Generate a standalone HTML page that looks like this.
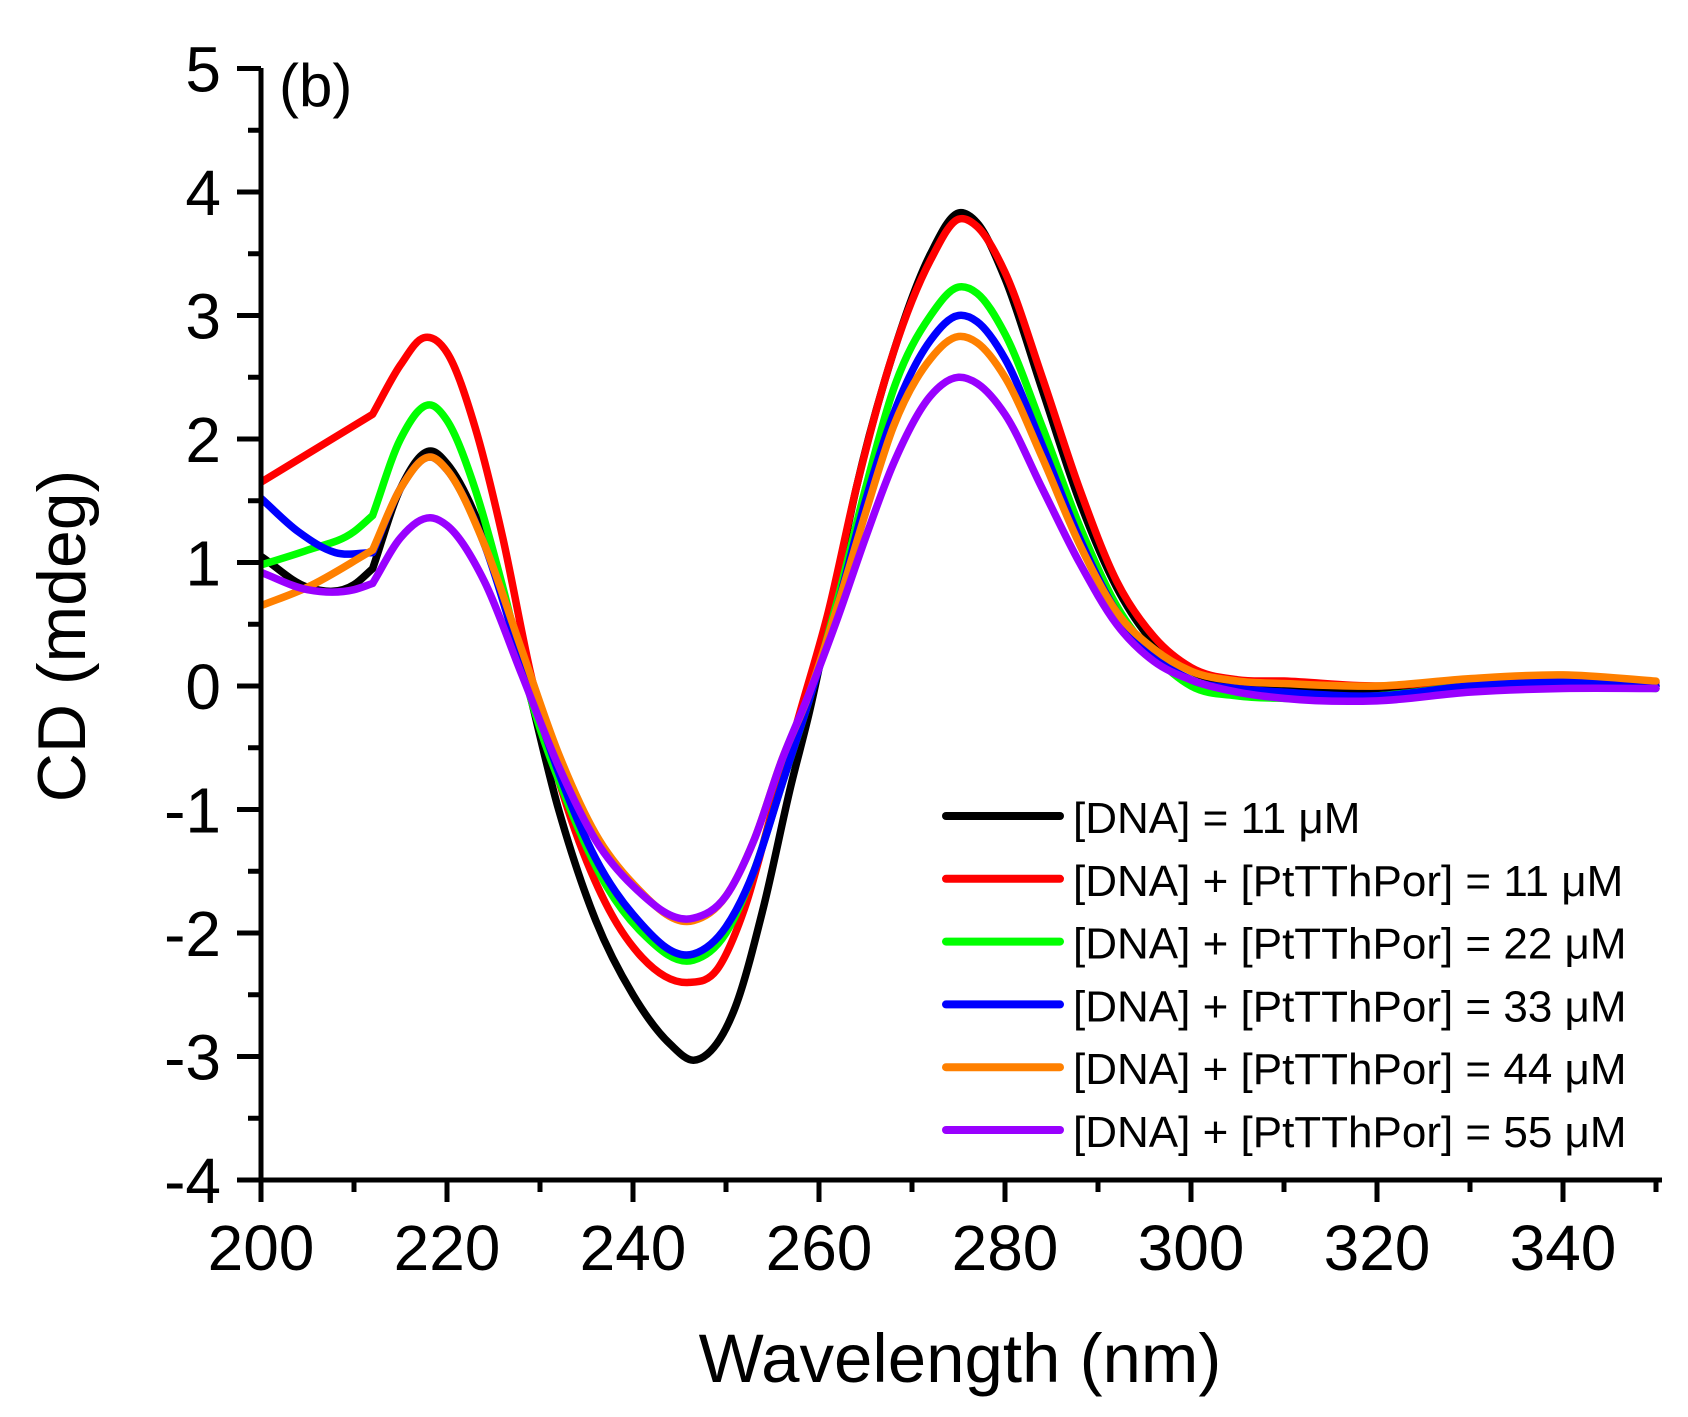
<!DOCTYPE html>
<html><head><meta charset="utf-8"><style>
html,body{margin:0;padding:0;background:#fff;}
svg{display:block;font-family:"Liberation Sans",Arial,sans-serif;}
</style></head><body>
<svg id="s" width="1688" height="1417" viewBox="0 0 1688 1417" xmlns="http://www.w3.org/2000/svg">
<defs><clipPath id="c"><rect x="261" y="40" width="1399" height="1140"/></clipPath></defs>
<g id="curves" clip-path="url(#c)" fill="none" stroke-width="7.5" stroke-linejoin="round" stroke-linecap="round"></g>
<g id="axes" stroke="#000" stroke-width="5" fill="none"></g>
<g id="lbl" font-size="64" fill="#000"></g>
<text x="279" y="106" font-size="60">(b)</text>
<text x="960" y="1382" font-size="69" text-anchor="middle">Wavelength (nm)</text>
<text transform="translate(85,636) rotate(-90)" font-size="68" text-anchor="middle">CD (mdeg)</text>
<g id="leg" font-size="44"></g>
</svg>
<script>
var X=function(w){return 261+(w-200)*9.3;},Y=function(v){return 686-v*123.5;};
var D={
"#000000":[[200,1.05],[205,0.8],[210,0.82],[212,0.95],[215,1.6],[218.5,1.9],[220,1.8],[224,1.2],[228,0.2],[232,-1.0],[236,-1.9],[240,-2.5],[244,-2.9],[246.5,-3.03],[248,-2.98],[251,-2.6],[254,-1.8],[257,-0.8],[259,-0.2],[261,0.5],[264,1.6],[268,2.7],[272,3.5],[275,3.83],[277,3.75],[280,3.3],[284,2.4],[288,1.5],[292,0.8],[296,0.35],[300,0.12],[305,0.03],[310,0.0],[320,-0.05],[330,0.0],[340,0.03],[350,0.0]],
"#ff0000":[[200,1.65],[212,2.2],[215,2.6],[217.5,2.82],[220,2.7],[223,2.1],[226,1.2],[229,0.1],[233,-1.0],[237,-1.75],[241,-2.2],[246,-2.4],[249,-2.3],[252,-1.8],[255,-1.0],[258,-0.2],[261,0.6],[264,1.6],[268,2.7],[272,3.45],[275,3.78],[277,3.72],[280,3.35],[284,2.5],[288,1.6],[292,0.85],[296,0.4],[300,0.15],[305,0.05],[310,0.04],[320,0.0],[330,0.05],[340,0.08],[350,0.03]],
"#00ff00":[[200,0.98],[205,1.1],[210,1.25],[212,1.38],[215,2.0],[218.5,2.27],[220,2.15],[223,1.6],[226,0.8],[229,-0.1],[233,-0.95],[237,-1.6],[241,-2.0],[246.5,-2.22],[250,-2.0],[253,-1.5],[256,-0.8],[259,-0.1],[262,0.7],[265,1.6],[268,2.4],[272,3.0],[275,3.23],[277,3.18],[280,2.85],[284,2.1],[288,1.3],[292,0.65],[296,0.25],[300,0.0],[305,-0.08],[310,-0.1],[320,-0.08],[330,0.0],[340,0.02],[350,-0.02]],
"#0000ff":[[200,1.52],[204,1.25],[208,1.08],[212,1.08],[215,1.6],[218.5,1.85],[220,1.75],[224,1.15],[228,0.2],[232,-0.7],[236,-1.4],[240,-1.85],[246.5,-2.17],[250,-1.95],[253,-1.5],[256,-0.8],[259,-0.1],[262,0.65],[265,1.5],[268,2.2],[272,2.8],[275,3.0],[277,2.95],[280,2.65],[284,1.95],[288,1.2],[292,0.6],[296,0.25],[300,0.05],[305,-0.02],[310,-0.05],[320,-0.08],[330,0.0],[340,0.03],[350,0.0]],
"#ff8000":[[200,0.65],[205,0.8],[212,1.1],[215,1.6],[218.5,1.85],[220,1.75],[224,1.15],[228,0.3],[232,-0.55],[236,-1.2],[240,-1.6],[246.5,-1.9],[250,-1.7],[253,-1.25],[256,-0.6],[259,-0.05],[262,0.65],[265,1.4],[268,2.1],[272,2.65],[275,2.83],[277,2.78],[280,2.5],[284,1.85],[288,1.15],[292,0.6],[296,0.3],[300,0.12],[305,0.04],[310,0.02],[320,0.0],[330,0.06],[340,0.09],[350,0.04]],
"#9900ff":[[200,0.92],[205,0.78],[210,0.78],[212,0.83],[215,1.2],[218.5,1.36],[220,1.3],[224,0.85],[228,0.1],[232,-0.65],[236,-1.25],[240,-1.62],[246.5,-1.88],[250,-1.7],[253,-1.25],[256,-0.6],[259,-0.05],[262,0.55],[265,1.2],[268,1.8],[272,2.35],[275,2.5],[277,2.45],[280,2.2],[284,1.6],[288,1.0],[292,0.5],[296,0.2],[300,0.05],[305,-0.05],[310,-0.1],[320,-0.12],[330,-0.05],[340,-0.02],[350,-0.02]]};
var NS="http://www.w3.org/2000/svg";
function el(t,a,p){var e=document.createElementNS(NS,t);for(var k in a)e.setAttribute(k,a[k]);p.appendChild(e);return e;}
var cg=document.getElementById("curves");
for(var col in D){var p=D[col].map(function(q){return [X(q[0]),Y(q[1])];});
 var n=p.length,mL=[],mR=[];
 for(var i=0;i<n;i++){
  var sl=i>0?(p[i][1]-p[i-1][1])/(p[i][0]-p[i-1][0]):null;
  var sr=i<n-1?(p[i+1][1]-p[i][1])/(p[i+1][0]-p[i][0]):null;
  var m;
  if(sl===null)m=sr;else if(sr===null)m=sl;else m=(sl*(p[i+1][0]-p[i][0])+sr*(p[i][0]-p[i-1][0]))/(p[i+1][0]-p[i-1][0]);
  if(D[col][i][0]===212&&sl!==null&&sr!==null){mL[i]=sl;mR[i]=sr;}else{mL[i]=m;mR[i]=m;}
 }
 var d="M"+p[0][0]+","+p[0][1];
 for(var i=0;i<n-1;i++){var dx=(p[i+1][0]-p[i][0])/3;
  d+=" C"+(p[i][0]+dx)+","+(p[i][1]+mR[i]*dx)+" "+(p[i+1][0]-dx)+","+(p[i+1][1]-mL[i+1]*dx)+" "+p[i+1][0]+","+p[i+1][1];}
 el("path",{d:d,stroke:col},cg);}
var ax=document.getElementById("axes"),lb=document.getElementById("lbl");
el("path",{d:"M261,68 V1182 M259,1180 H1662"},ax);
for(var v=-4;v<=5;v+=0.5){var y=Y(v),maj=Math.abs(v-Math.round(v))<1e-6;
 el("path",{d:"M"+(maj?237:248)+","+y+" H261"},ax);
 if(maj){var t=el("text",{x:221,y:y+23,"text-anchor":"end"},lb);t.textContent=(v<0?"-":"")+Math.abs(v);}}
for(var w=200;w<=350;w+=10){var x=X(w),maj=w%20==0;
 el("path",{d:"M"+x+",1180 V"+(maj?1202:1192)},ax);
 if(maj&&w<=340){var t=el("text",{x:x,y:1270,"text-anchor":"middle"},lb);t.textContent=w;}}
var L=["[DNA] = 11 \u03bcM","[DNA] + [PtTThPor] = 11 \u03bcM","[DNA] + [PtTThPor] = 22 \u03bcM","[DNA] + [PtTThPor] = 33 \u03bcM","[DNA] + [PtTThPor] = 44 \u03bcM","[DNA] + [PtTThPor] = 55 \u03bcM"];
var cols=Object.keys(D),lg=document.getElementById("leg");
for(var i=0;i<6;i++){var y=816+i*62.8;
 el("path",{d:"M946,"+y+" H1060",stroke:cols[i],"stroke-width":8,"stroke-linecap":"round"},lg);
 var t=el("text",{x:1073,y:y+17},lg);t.textContent=L[i];}
</script>
</body></html>
